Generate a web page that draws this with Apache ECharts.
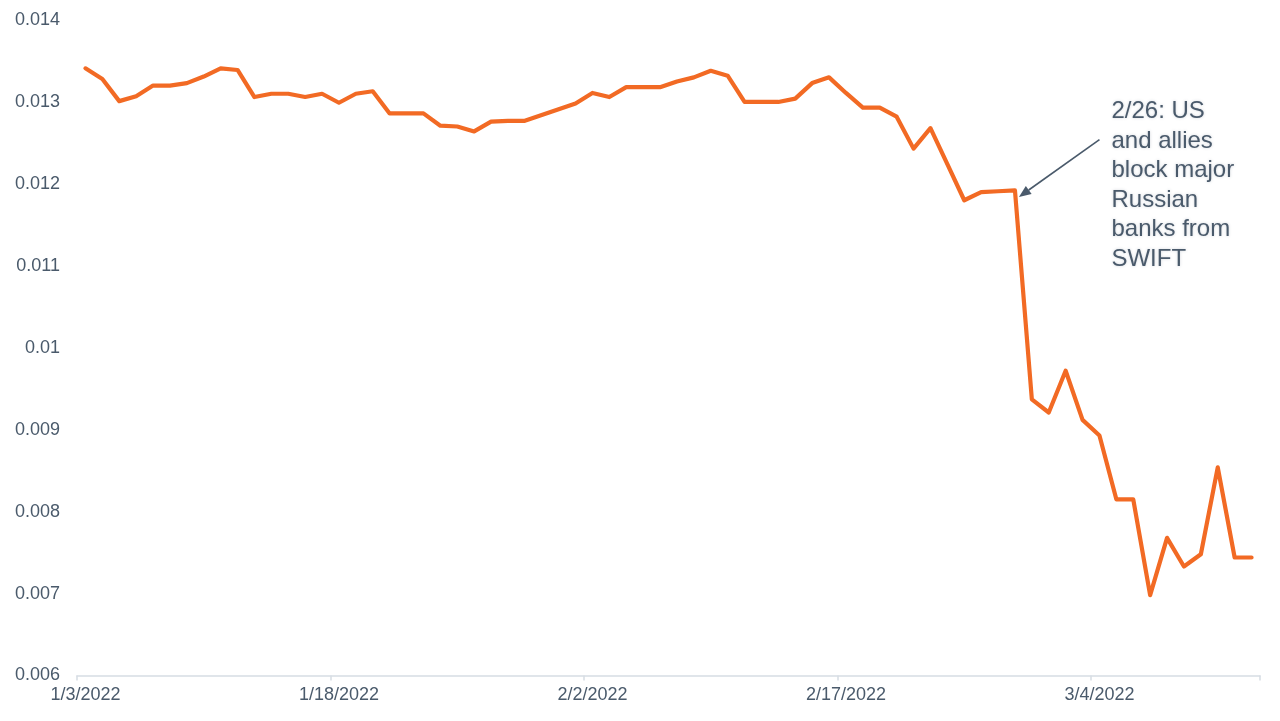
<!DOCTYPE html>
<html>
<head>
<meta charset="utf-8">
<style>
html,body{margin:0;padding:0;background:#fff;}
#chart{width:1280px;height:721px;}
</style>
<script src="https://cdn.jsdelivr.net/npm/echarts@6/dist/echarts.min.js"></script>
</head>
<body>
<div id="chart"></div>
<script>
const dates = [
 '1/3/2022','1/4/2022','1/5/2022','1/6/2022','1/7/2022','1/8/2022','1/9/2022','1/10/2022','1/11/2022','1/12/2022',
 '1/13/2022','1/14/2022','1/15/2022','1/16/2022','1/17/2022','1/18/2022','1/19/2022','1/20/2022','1/21/2022','1/22/2022',
 '1/23/2022','1/24/2022','1/25/2022','1/26/2022','1/27/2022','1/28/2022','1/29/2022','1/30/2022','1/31/2022','2/1/2022',
 '2/2/2022','2/3/2022','2/4/2022','2/5/2022','2/6/2022','2/7/2022','2/8/2022','2/9/2022','2/10/2022','2/11/2022',
 '2/12/2022','2/13/2022','2/14/2022','2/15/2022','2/16/2022','2/17/2022','2/18/2022','2/19/2022','2/20/2022','2/21/2022',
 '2/22/2022','2/23/2022','2/24/2022','2/25/2022','2/26/2022','2/27/2022','2/28/2022','3/1/2022','3/2/2022','3/3/2022',
 '3/4/2022','3/5/2022','3/6/2022','3/7/2022','3/8/2022','3/9/2022','3/10/2022','3/11/2022','3/12/2022','3/13/2022'
];
const rubleUsd = [
 0.01341,0.01328,0.01301,0.01307,0.01320,0.01320,0.01323,0.01331,0.01341,0.01339,
 0.01306,0.01310,0.01310,0.01306,0.01310,0.01299,0.01310,0.01313,0.01286,0.01286,
 0.01286,0.01271,0.01270,0.01264,0.01276,0.01277,0.01277,0.01284,0.01291,0.01298,
 0.01311,0.01306,0.01318,0.01318,0.01318,0.01325,0.01330,0.01338,0.01332,0.01300,
 0.01300,0.01300,0.01304,0.01323,0.01330,0.01311,0.01293,0.01293,0.01282,0.01243,
 0.01268,0.01224,0.01180,0.01190,0.01191,0.01192,0.00937,0.00921,0.00972,0.00912,
 0.00893,0.00815,0.00815,0.00698,0.00768,0.00733,0.00748,0.00854,0.00744,0.00744
];
const yTicks = { min: 0.006, max: 0.014, step: 0.001 };
const annotationLines = ['2/26: US', 'and allies', 'block major', 'Russian', 'banks from', 'SWIFT'];
const arrowFrom = ['3/4/2022', 0.01254];
const arrowTo = ['2/27/2022', 0.01184];

const textColor = '#4a5a6b';
const axisColor = '#d6dde4';
const chart = echarts.init(document.getElementById('chart'));
chart.setOption({
  animation: false,
  backgroundColor: '#ffffff',
  grid: { left: 77, right: 20, top: 20, bottom: 45.5 },
  xAxis: {
    type: 'category',
    data: dates,
    boundaryGap: true,
    axisLine: { lineStyle: { color: axisColor, width: 1.5 } },
    axisTick: { show: true, interval: 14, length: 5, lineStyle: { color: axisColor, width: 1.5 } },
    axisLabel: { interval: 14, color: textColor, fontSize: 18, fontFamily: 'Liberation Sans, Arial, sans-serif', margin: 11 },
    splitLine: { show: false }
  },
  yAxis: {
    type: 'value',
    min: yTicks.min, max: yTicks.max, interval: yTicks.step,
    axisLine: { show: false },
    axisTick: { show: false },
    splitLine: { show: false },
    axisLabel: {
      color: textColor, fontSize: 18, fontFamily: 'Liberation Sans, Arial, sans-serif', margin: 17,
      formatter: v => String(+v.toFixed(3))
    }
  },
  series: [{
    type: 'line',
    data: rubleUsd,
    showSymbol: false,
    symbol: 'none',
    lineStyle: { color: '#f26a24', width: 4.2, cap: 'round', join: 'round' }
  }]
});

// annotation arrow + text
const S = chart.convertToPixel({ seriesIndex: 0 }, arrowFrom);
const T0 = chart.convertToPixel({ seriesIndex: 0 }, arrowTo);
const T = [T0[0] + 4, T0[1]];
const dx = T[0] - S[0], dy = T[1] - S[1];
const len = Math.sqrt(dx * dx + dy * dy);
const ux = dx / len, uy = dy / len;
const headLen = 12, headHalf = 5;
const bx = T[0] - ux * headLen, by = T[1] - uy * headLen;
const px = -uy, py = ux;
chart.setOption({
  graphic: [
    { type: 'line', shape: { x1: S[0], y1: S[1], x2: bx, y2: by }, style: { stroke: textColor, lineWidth: 1.6 }, z: 10 },
    { type: 'polygon', shape: { points: [T, [bx + px * headHalf, by + py * headHalf], [bx - px * headHalf, by - py * headHalf]] }, style: { fill: textColor }, z: 10 },
    { type: 'text', x: S[0] + 12, y: 97, z: 10,
      style: { text: annotationLines.join('\n'), fill: textColor, font: '24px "Liberation Sans", Arial, sans-serif', lineHeight: 29.5,
        textShadowColor: 'rgba(68,84,106,0.25)', textShadowBlur: 3 } }
  ]
});
</script>
</body>
</html>
